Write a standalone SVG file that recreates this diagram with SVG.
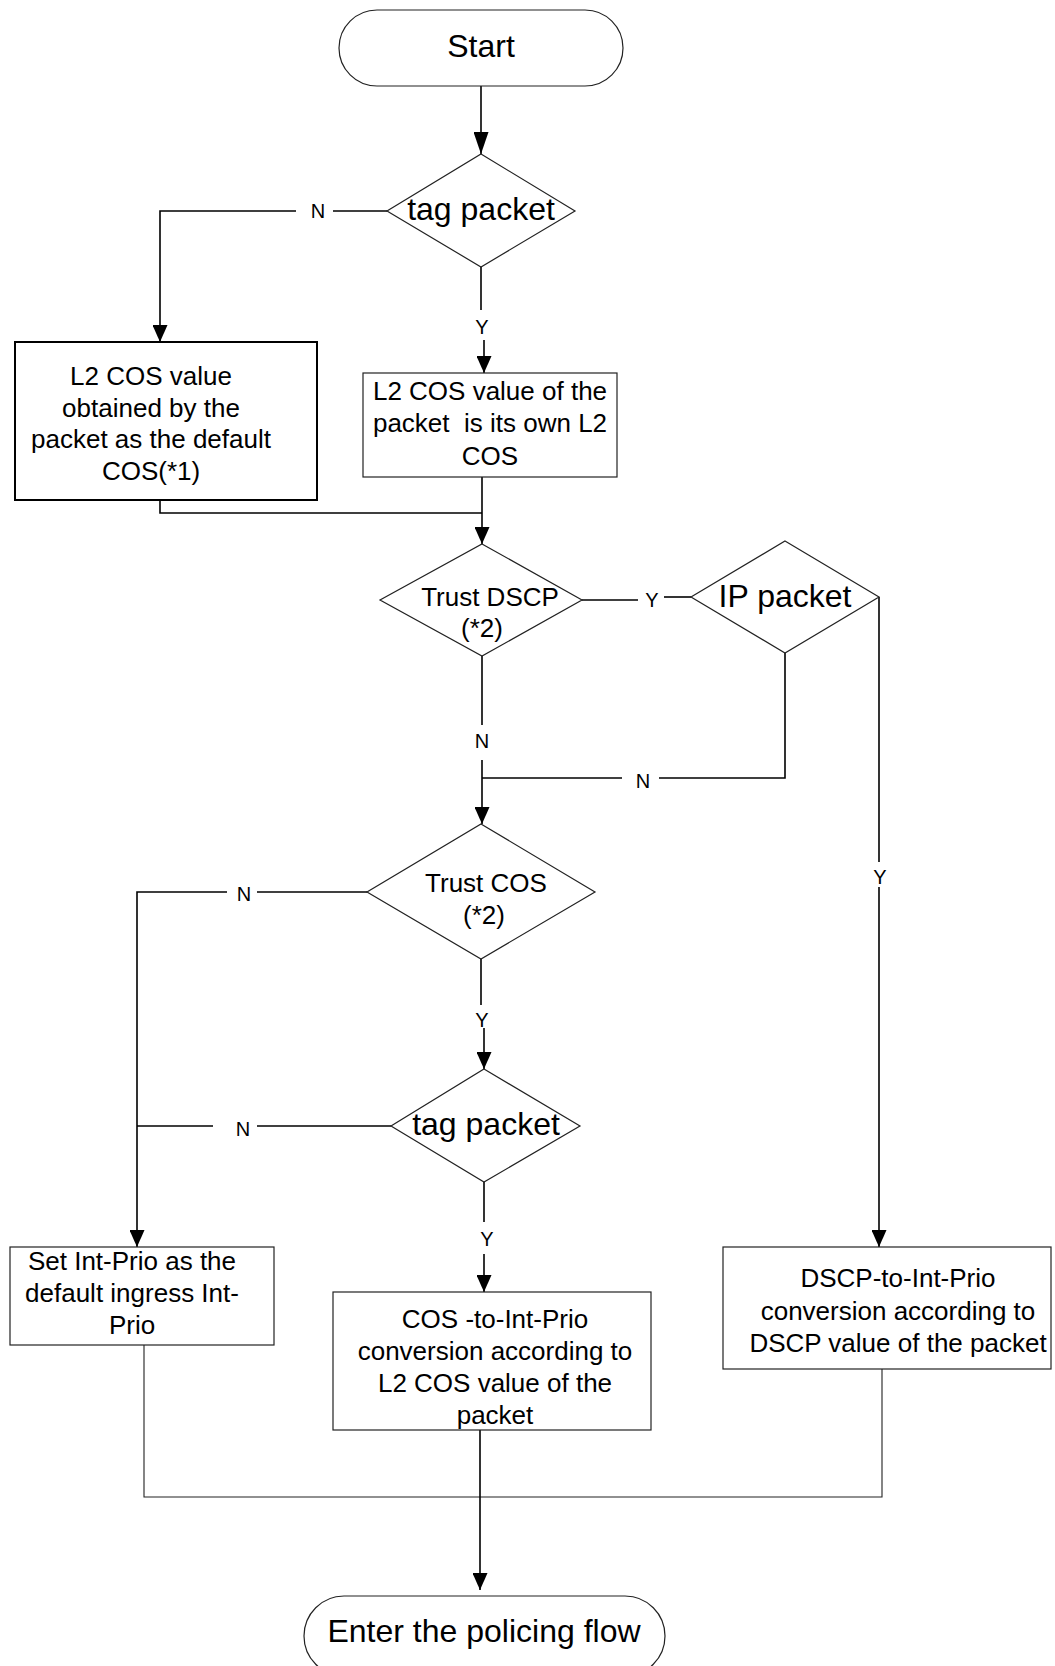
<svg xmlns="http://www.w3.org/2000/svg" width="1055" height="1666" viewBox="0 0 1055 1666">
<style>
  text { font-family: "Liberation Sans", Arial, sans-serif; fill: #000; text-anchor: middle; }
  .big { font-size: 32px; }
  .mid { font-size: 26px; }
  .lbl { font-size: 20px; }
  .shape { fill: #fff; stroke: #222; stroke-width: 1.2; }
  .thick { fill: #fff; stroke: #000; stroke-width: 2; }
  .conn { fill: none; stroke: #000; stroke-width: 1.6; }
  .thin { fill: none; stroke: #222; stroke-width: 1.1; }
</style>
<defs>
  <marker id="arrow" markerUnits="userSpaceOnUse" viewBox="0 0 17 15" refX="17" refY="7.5" markerWidth="17" markerHeight="15" orient="auto">
    <path d="M0,0 L17,7.5 L0,15 z" fill="#000"/>
  </marker>
  <marker id="arrowlong" markerUnits="userSpaceOnUse" viewBox="0 0 22 15" refX="22" refY="7.5" markerWidth="22" markerHeight="15" orient="auto">
    <path d="M0,0 L22,7.5 L0,15 z" fill="#000"/>
  </marker>
</defs>
<rect width="1055" height="1666" fill="#fff"/>

<g id="connectors">
  <line class="conn" x1="481" y1="86" x2="481" y2="154" marker-end="url(#arrowlong)"/>
  <line class="conn" x1="387" y1="211" x2="333" y2="211"/>
  <path class="conn" d="M296,211 H160 V342" marker-end="url(#arrow)"/>
  <line class="conn" x1="481" y1="267" x2="481" y2="310"/>
  <line class="conn" x1="484" y1="340" x2="484" y2="373" marker-end="url(#arrow)"/>
  <path class="conn" d="M160,500 V513 H482"/>
  <line class="conn" x1="482" y1="477" x2="482" y2="544" marker-end="url(#arrow)"/>
  <line class="conn" x1="582" y1="600" x2="638" y2="600"/>
  <line class="conn" x1="664" y1="597" x2="691" y2="597"/>
  <line class="conn" x1="482" y1="656" x2="482" y2="725"/>
  <line class="conn" x1="482" y1="760" x2="482" y2="824" marker-end="url(#arrow)"/>
  <path class="conn" d="M785,653 V778 H659"/>
  <line class="conn" x1="622" y1="778" x2="482" y2="778"/>
  <line class="conn" x1="879" y1="597" x2="879" y2="862"/>
  <line class="conn" x1="879" y1="887" x2="879" y2="1247" marker-end="url(#arrow)"/>
  <line class="conn" x1="367" y1="892" x2="257" y2="892"/>
  <path class="conn" d="M227,892 H137 V1247" marker-end="url(#arrow)"/>
  <line class="conn" x1="481" y1="959" x2="481" y2="1005"/>
  <line class="conn" x1="484" y1="1028" x2="484" y2="1069" marker-end="url(#arrow)"/>
  <line class="conn" x1="391" y1="1126" x2="257" y2="1126"/>
  <line class="conn" x1="213" y1="1126" x2="137" y2="1126"/>
  <line class="conn" x1="484" y1="1182" x2="484" y2="1222"/>
  <line class="conn" x1="484" y1="1254" x2="484" y2="1292" marker-end="url(#arrow)"/>
  <path class="thin" d="M144,1345 V1497 H882 V1369"/>
  <line class="conn" x1="480" y1="1430" x2="480" y2="1590" marker-end="url(#arrow)"/>
  <text class="lbl" x="318" y="218">N</text>
  <text class="lbl" x="482" y="334">Y</text>
  <text class="lbl" x="652" y="607">Y</text>
  <text class="lbl" x="482" y="748">N</text>
  <text class="lbl" x="643" y="788">N</text>
  <text class="lbl" x="880" y="884">Y</text>
  <text class="lbl" x="244" y="901">N</text>
  <text class="lbl" x="482" y="1027">Y</text>
  <text class="lbl" x="243" y="1136">N</text>
  <text class="lbl" x="487" y="1246">Y</text>
</g>

<g id="start">
  <rect class="shape" x="339" y="10" width="284" height="76" rx="38" ry="38"/>
  <text class="big" x="481" y="57">Start</text>
</g>

<g id="tag-packet-1">
  <polygon class="shape" points="481,154 575,211 481,267 387,211"/>
  <text class="big" x="481" y="220">tag packet</text>
</g>

<g id="default-cos">
  <rect class="thick" x="15" y="342" width="302" height="158"/>
  <text class="mid" x="151" y="385">L2 COS value</text>
  <text class="mid" x="151" y="417">obtained by the</text>
  <text class="mid" x="151" y="448">packet as the default</text>
  <text class="mid" x="151" y="480">COS(*1)</text>
</g>

<g id="own-cos">
  <rect class="shape" x="363" y="373" width="254" height="104"/>
  <text class="mid" x="490" y="400">L2 COS value of the</text>
  <text class="mid" x="490" y="432" style="white-space:pre">packet  is its own L2</text>
  <text class="mid" x="490" y="465">COS</text>
</g>

<g id="trust-dscp">
  <polygon class="shape" points="482,544 582,600 482,656 380,600"/>
  <text class="mid" x="490" y="606">Trust DSCP</text>
  <text class="mid" x="482" y="637">(*2)</text>
</g>

<g id="ip-packet">
  <polygon class="shape" points="785,541 879,597 785,653 691,597"/>
  <text class="big" x="785" y="607">IP packet</text>
</g>

<g id="trust-cos">
  <polygon class="shape" points="481,824 595,892 481,959 367,892"/>
  <text class="mid" x="486" y="892">Trust COS</text>
  <text class="mid" x="484" y="924">(*2)</text>
</g>

<g id="tag-packet-2">
  <polygon class="shape" points="484,1069 580,1126 484,1182 391,1126"/>
  <text class="big" x="486" y="1135">tag packet</text>
</g>

<g id="set-int-prio">
  <rect class="shape" x="10" y="1247" width="264" height="98"/>
  <text class="mid" x="132" y="1270">Set Int-Prio as the</text>
  <text class="mid" x="132" y="1302">default ingress Int-</text>
  <text class="mid" x="132" y="1334">Prio</text>
</g>

<g id="cos-to-int-prio">
  <rect class="shape" x="333" y="1292" width="318" height="138"/>
  <text class="mid" x="495" y="1328">COS -to-Int-Prio</text>
  <text class="mid" x="495" y="1360">conversion according to</text>
  <text class="mid" x="495" y="1392">L2 COS value of the</text>
  <text class="mid" x="495" y="1424">packet</text>
</g>

<g id="dscp-to-int-prio">
  <rect class="shape" x="723" y="1247" width="328" height="122"/>
  <text class="mid" x="898" y="1287">DSCP-to-Int-Prio</text>
  <text class="mid" x="898" y="1320">conversion according to</text>
  <text class="mid" x="898" y="1352">DSCP value of the packet</text>
</g>

<g id="enter-policing">
  <rect class="shape" x="304" y="1596" width="361" height="80" rx="40" ry="40"/>
  <text class="big" x="484" y="1642">Enter the policing flow</text>
</g>
</svg>
